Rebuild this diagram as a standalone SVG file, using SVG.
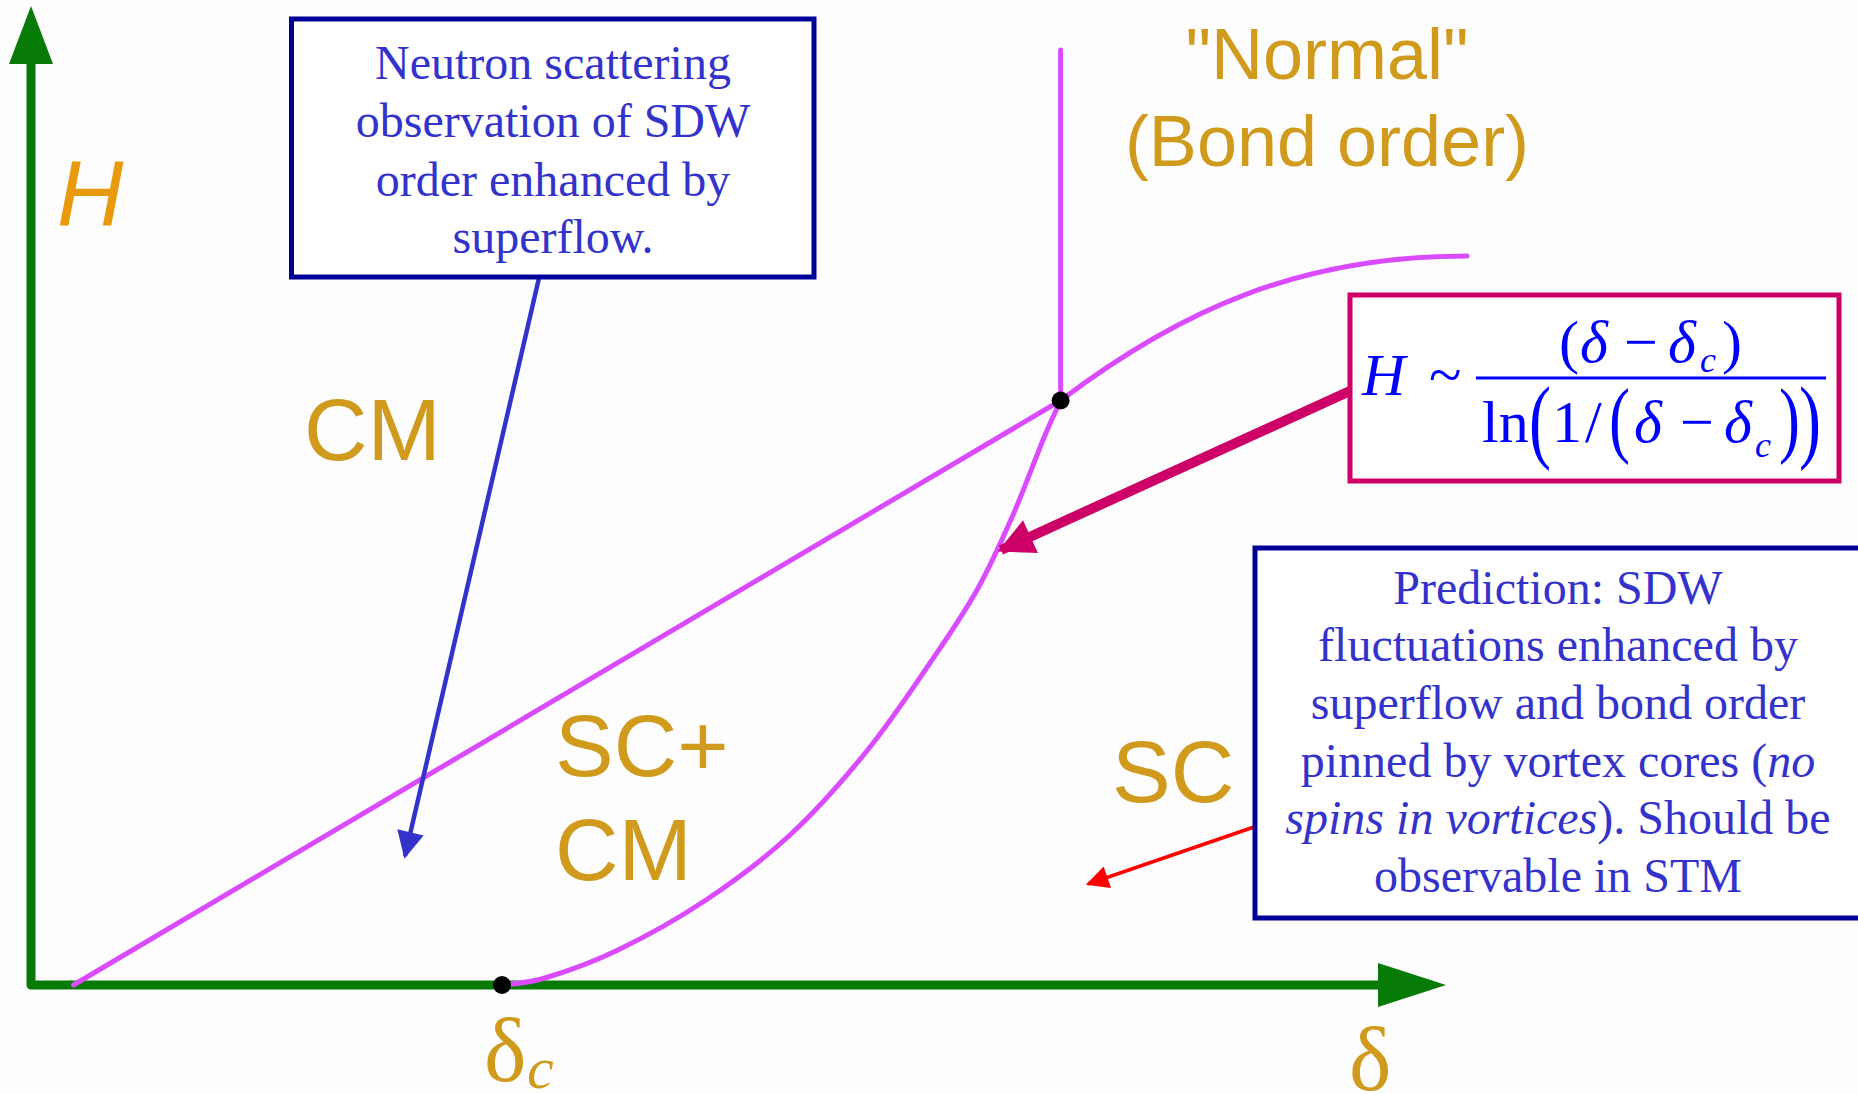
<svg xmlns="http://www.w3.org/2000/svg" width="1858" height="1094" viewBox="0 0 1858 1094">
<defs>
<style>
.axis{stroke:#077A07;stroke-width:9;fill:none}
.phase{stroke:#DA4BFF;stroke-width:5;fill:none;stroke-linejoin:round;stroke-linecap:round}
.lbl{font-family:"Liberation Sans",Arial,sans-serif;font-size:88px;fill:#D09A1C}
.note{font-family:"Liberation Serif","Times New Roman",serif;font-size:48px;fill:#3333CC;text-anchor:middle}
.box{fill:#FFFFFF;stroke:#000099;stroke-width:5}
.fm{font-family:"Liberation Serif","Times New Roman",serif;font-size:60px;fill:#0000FF}
.it{font-style:italic}
.greek{font-family:"Liberation Serif","Times New Roman",serif;fill:#D09A1C}
</style>
<marker id="mBlue" viewBox="0 0 10 10" refX="9" refY="5" markerWidth="6.5" markerHeight="6" markerUnits="strokeWidth" orient="auto"><path d="M0,0 L10,5 L0,10 z" fill="#3333CC"/></marker>
<marker id="mRed" viewBox="0 0 10 10" refX="9" refY="5" markerWidth="9" markerHeight="6.5" markerUnits="strokeWidth" orient="auto"><path d="M0,0 L10,5 L0,10 z" fill="#FF0000"/></marker>
<marker id="mCrim" viewBox="0 0 10 10" refX="9" refY="5" markerWidth="4.2" markerHeight="3.6" markerUnits="strokeWidth" orient="auto"><path d="M0,0 L10,5 L0,10 z" fill="#CC0066"/></marker>
</defs>
<rect width="1858" height="1094" fill="#FDFDFD"/>

<g id="axes">
<path class="axis" d="M31,64 L31,985 L1380,985" stroke-linejoin="round"/>
<polygon points="31,6 9,64 53,64" fill="#077A07"/>
<polygon points="1446,985 1378,963 1378,1007" fill="#077A07"/>
<text x="57" y="226" font-family="'Liberation Sans',Arial,sans-serif" font-size="92" font-style="italic" fill="#E89A0C">H</text>
<text class="greek" x="1349" y="1090" style="font-size:90px">δ</text>
<g id="delta-c">
<text class="greek" x="484" y="1081" style="font-size:90px">δ</text>
<text class="greek" x="527" y="1088" style="font-size:60px;font-style:italic">c</text>
</g>
</g>

<g id="phase-boundaries">
<path class="phase" d="M73.5,985 L1060.6,400.5"/>
<path class="phase" d="M1060.6,50 L1060.6,400.5"/>
<path class="phase" d="M1060.6,400.5 C1180,310 1300,256 1467,256"/>
<path class="phase" d="M502,985 C509.2,983.8 525.7,983.8 545,978 C564.3,972.2 591.2,963 618,950 C644.8,937 677.3,919.2 706,900 C734.7,880.8 763.3,859.7 790,835 C816.7,810.3 842.7,780.7 866,752 C889.3,723.3 911.5,690 930,663 C948.5,636 963.2,614.7 977,590 C990.8,565.3 1002,540 1013,515 C1024,490 1035.1,459.1 1043,440 C1050.9,420.9 1057.7,407.1 1060.6,400.5"/>
<circle cx="1060.6" cy="400.5" r="9" fill="#000"/>
<circle cx="502" cy="985" r="9" fill="#000"/>
</g>

<g id="region-labels">
<text class="lbl" x="304" y="460">CM</text>
<text class="lbl" x="555" y="776">SC+</text>
<text class="lbl" x="555" y="880">CM</text>
<text class="lbl" x="1112" y="802">SC</text>
<text class="lbl" x="1327" y="79" style="font-size:72px" text-anchor="middle">"Normal"</text>
<text class="lbl" x="1327" y="166" style="font-size:72px" text-anchor="middle">(Bond order)</text>
</g>

<g id="connectors">
<line x1="539" y1="278" x2="405" y2="856" stroke="#3333CC" stroke-width="4.5" marker-end="url(#mBlue)"/>
<line x1="1350" y1="391" x2="1001" y2="550" stroke="#CC0066" stroke-width="10" marker-end="url(#mCrim)"/>
<line x1="1254" y1="827" x2="1088" y2="884" stroke="#FF0000" stroke-width="3.5" marker-end="url(#mRed)"/>
</g>

<g id="box-neutron">
<rect class="box" x="291.5" y="19" width="522.5" height="258"/>
<text class="note" x="553" y="79">Neutron scattering</text>
<text class="note" x="553" y="137">observation of SDW</text>
<text class="note" x="553" y="196">order enhanced by</text>
<text class="note" x="553" y="253">superflow.</text>
</g>

<g id="box-formula">
<rect x="1350" y="295" width="489" height="186" fill="#FFFFFF" stroke="#CC0066" stroke-width="5"/>
<text class="fm it" x="1362" y="395">H</text>
<text class="fm" x="1429" y="395">~</text>
<line x1="1476" y1="378" x2="1826" y2="378" stroke="#0000FF" stroke-width="3"/>
<text class="fm" x="1559" y="362">(</text>
<text class="fm it" x="1580" y="362">δ</text>
<text class="fm" x="1624" y="362">−</text>
<text class="fm it" x="1668" y="362">δ</text>
<text class="fm it" x="1700" y="372" style="font-size:36px">c</text>
<text class="fm" x="1722" y="362">)</text>
<text class="fm" x="1482" y="442">ln</text>
<text class="fm" transform="translate(1529,451) scale(1.1,1.54)">(</text>
<text class="fm" x="1552" y="442">1</text>
<text class="fm" x="1585" y="442">/</text>
<text class="fm" transform="translate(1609,447.4) scale(1.05,1.42)">(</text>
<text class="fm it" x="1634" y="442">δ</text>
<text class="fm" x="1680" y="442">−</text>
<text class="fm it" x="1724" y="442">δ</text>
<text class="fm it" x="1755" y="457" style="font-size:36px">c</text>
<text class="fm" transform="translate(1779,447.4) scale(1.05,1.42)">)</text>
<text class="fm" transform="translate(1799,451) scale(1.1,1.54)">)</text>
</g>

<g id="box-prediction">
<rect class="box" x="1255" y="548" width="620" height="370"/>
<text class="note" x="1558" y="604">Prediction: SDW</text>
<text class="note" x="1558" y="661">fluctuations enhanced by</text>
<text class="note" x="1558" y="719">superflow and bond order</text>
<text class="note" x="1558" y="777">pinned by vortex cores (<tspan font-style="italic">no</tspan></text>
<text class="note" x="1558" y="834"><tspan font-style="italic">spins in vortices</tspan>). Should be</text>
<text class="note" x="1558" y="892">observable in STM</text>
</g>
</svg>
